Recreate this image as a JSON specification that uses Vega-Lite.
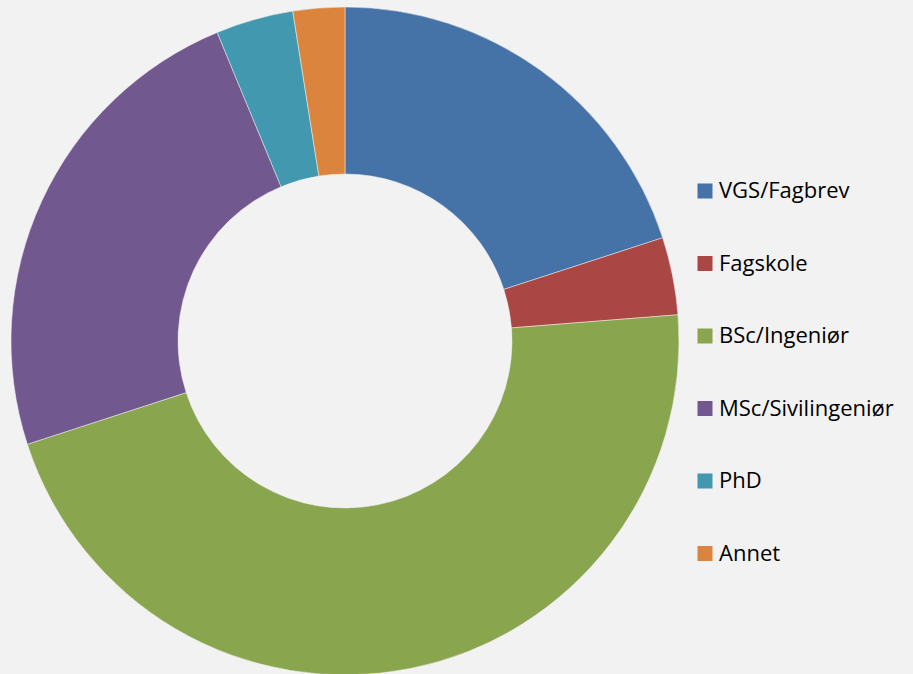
{
  "$schema": "https://vega.github.io/schema/vega-lite/v6.json",
  "width": 690,
  "height": 682,
  "padding": {"left": 0, "top": 0, "right": 223, "bottom": 0},
  "autosize": {"type": "none"},
  "background": "#F2F2F2",
  "view": {"stroke": null},
  "data": {"values": [
    {"category": "VGS/Fagbrev", "value": 16, "order": 1},
    {"category": "Fagskole", "value": 3, "order": 2},
    {"category": "BSc/Ingeniør", "value": 37, "order": 3},
    {"category": "MSc/Sivilingeniør", "value": 19, "order": 4},
    {"category": "PhD", "value": 3, "order": 5},
    {"category": "Annet", "value": 2, "order": 6}
  ]},
  "mark": {"type": "arc", "outerRadius": 334, "innerRadius": 167, "stroke": "#F2F2F2", "strokeWidth": 0.5},
  "encoding": {
    "theta": {"field": "value", "type": "quantitative", "stack": true},
    "order": {"field": "order", "type": "quantitative"},
    "color": {
      "field": "category",
      "type": "nominal",
      "sort": ["VGS/Fagbrev", "Fagskole", "BSc/Ingeniør", "MSc/Sivilingeniør", "PhD", "Annet"],
      "scale": {
        "domain": ["VGS/Fagbrev", "Fagskole", "BSc/Ingeniør", "MSc/Sivilingeniør", "PhD", "Annet"],
        "range": ["#4572A7", "#AA4643", "#89A54E", "#71588F", "#4198AF", "#DB843D"]
      },
      "legend": {
        "title": null,
        "orient": "none",
        "legendX": 694,
        "legendY": 180,
        "symbolType": "square",
        "symbolSize": 225,
        "symbolStrokeWidth": 0,
        "labelFont": "Open Sans",
        "labelFontSize": 22,
        "labelColor": "#000000",
        "labelOffset": 3,
        "rowPadding": 50.5,
        "labelLimit": 300
      }
    }
  }
}
